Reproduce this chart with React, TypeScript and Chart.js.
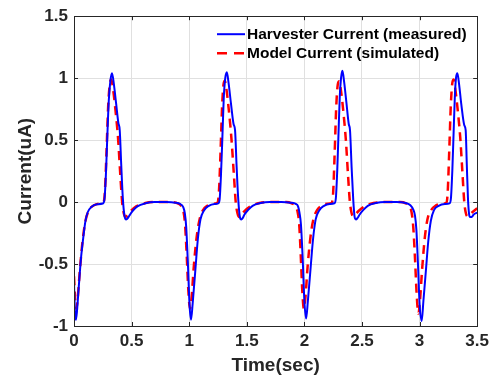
import { useEffect, useRef } from "react";
import { Chart, registerables } from "chart.js";

Chart.register(...registerables);

const measuredTime = [
  0, 0.008, 0.016, 0.026, 0.04, 0.06, 0.08, 0.1, 0.12, 0.15, 0.2, 0.25,
  0.264, 0.276, 0.288, 0.302, 0.316, 0.33, 0.345, 0.365, 0.385, 0.397, 0.41, 0.424, 0.438, 0.45, 0.462, 0.48, 0.51, 0.55, 0.62, 0.7, 0.8, 0.88, 0.92, 0.948, 0.962, 0.974, 0.988, 1.003, 1.016, 1.03, 1.055, 1.075, 1.098, 1.13, 1.17, 1.22, 1.252,
  1.264, 1.276, 1.288, 1.3, 1.313, 1.327, 1.342, 1.362, 1.385, 1.398, 1.412, 1.426, 1.44, 1.452, 1.464, 1.48, 1.51, 1.55, 1.62, 1.7, 1.8, 1.88, 1.925, 1.945, 1.958, 1.97, 1.985, 2.0, 2.015, 2.03, 2.055, 2.075, 2.098, 2.13, 2.17, 2.22, 2.26,
  2.273, 2.285, 2.296, 2.307, 2.318, 2.33, 2.345, 2.365, 2.385, 2.396, 2.41, 2.424, 2.436, 2.447, 2.46, 2.48, 2.51, 2.55, 2.62, 2.7, 2.8, 2.88, 2.92, 2.945, 2.96, 2.972, 2.986, 3.0, 3.018, 3.033, 3.055, 3.075, 3.098, 3.125, 3.165, 3.22, 3.26,
  3.272, 3.284, 3.295, 3.306, 3.316, 3.328, 3.343, 3.362, 3.388, 3.4, 3.41, 3.42, 3.43, 3.438, 3.452, 3.47, 3.5,
];
const measuredCurrent = [
  -0.65, -0.88, -0.95, -0.88, -0.7, -0.46, -0.29, -0.15, -0.08, -0.04, -0.018, -0.012,
  0.02, 0.2, 0.5, 0.82, 0.98, 1.04, 0.96, 0.8, 0.64, 0.58, 0.3, 0.03, -0.11, -0.14, -0.135, -0.11, -0.07, -0.035, -0.01, 0, 0, -0.005, -0.015, -0.04, -0.09, -0.2, -0.48, -0.83, -0.95, -0.82, -0.53, -0.3, -0.14, -0.065, -0.03, -0.015, -0.01,
  0.02, 0.22, 0.52, 0.84, 1.0, 1.047, 0.96, 0.8, 0.63, 0.58, 0.28, 0.02, -0.12, -0.14, -0.13, -0.1, -0.065, -0.03, -0.008, 0, 0, -0.005, -0.015, -0.035, -0.09, -0.18, -0.45, -0.8, -0.94, -0.8, -0.52, -0.3, -0.14, -0.065, -0.03, -0.015, -0.01,
  0.03, 0.25, 0.55, 0.85, 1.0, 1.06, 0.97, 0.8, 0.63, 0.58, 0.28, 0.02, -0.12, -0.14, -0.13, -0.1, -0.065, -0.03, -0.008, 0, 0, -0.008, -0.025, -0.06, -0.11, -0.22, -0.5, -0.82, -0.96, -0.8, -0.55, -0.32, -0.15, -0.065, -0.03, -0.015, -0.01,
  0.03, 0.25, 0.55, 0.85, 1.0, 1.04, 0.95, 0.79, 0.62, 0.58, 0.3, 0.03, -0.1, -0.12, -0.12, -0.1, -0.085,
];

const modelTime = [
  0, 0.01, 0.02, 0.032, 0.05, 0.075, 0.1, 0.13, 0.17, 0.22, 0.255,
  0.268, 0.282, 0.297, 0.312, 0.324, 0.338, 0.358, 0.382, 0.402, 0.418, 0.432, 0.447, 0.465, 0.49, 0.54, 0.62, 0.7, 0.85, 0.9, 0.93, 0.95, 0.964, 0.978, 0.993, 1.007, 1.02, 1.04, 1.065, 1.09, 1.12, 1.16, 1.21, 1.245,
  1.258, 1.272, 1.286, 1.298, 1.309, 1.322, 1.342, 1.366, 1.388, 1.404, 1.419, 1.434, 1.452, 1.478, 1.53, 1.61, 1.7, 1.84, 1.89, 1.92, 1.94, 1.955, 1.968, 1.982, 1.995, 2.008, 2.028, 2.053, 2.078, 2.11, 2.15, 2.2, 2.238,
  2.25, 2.263, 2.277, 2.29, 2.303, 2.316, 2.336, 2.36, 2.38, 2.395, 2.41, 2.425, 2.443, 2.47, 2.52, 2.6, 2.7, 2.83, 2.88, 2.91, 2.93, 2.945, 2.96, 2.975, 2.99, 3.003, 3.023, 3.045, 3.068, 3.1, 3.14, 3.195, 3.232,
  3.244, 3.257, 3.271, 3.284, 3.296, 3.309, 3.329, 3.353, 3.373, 3.388, 3.402, 3.416, 3.434, 3.46, 3.5,
];
const modelCurrent = [
  -0.6, -0.78, -0.86, -0.78, -0.56, -0.31, -0.15, -0.065, -0.028, -0.013, -0.004,
  0.08, 0.4, 0.78, 0.96, 0.99, 0.92, 0.76, 0.52, 0.22, 0.0, -0.09, -0.12, -0.105, -0.075, -0.035, -0.008, 0, 0, -0.01, -0.03, -0.075, -0.18, -0.42, -0.72, -0.86, -0.78, -0.52, -0.28, -0.14, -0.065, -0.028, -0.013, -0.005,
  0.08, 0.4, 0.78, 0.95, 0.98, 0.92, 0.76, 0.52, 0.22, 0.0, -0.09, -0.12, -0.105, -0.075, -0.035, -0.008, 0, 0, -0.01, -0.03, -0.075, -0.18, -0.42, -0.72, -0.86, -0.78, -0.52, -0.28, -0.14, -0.065, -0.028, -0.013, -0.005,
  0.08, 0.4, 0.78, 0.95, 0.975, 0.91, 0.75, 0.5, 0.2, 0.0, -0.09, -0.115, -0.1, -0.072, -0.035, -0.008, 0, 0, -0.01, -0.035, -0.08, -0.2, -0.45, -0.75, -0.9, -0.8, -0.53, -0.29, -0.14, -0.065, -0.028, -0.013, -0.005,
  0.08, 0.4, 0.78, 0.96, 0.99, 0.92, 0.76, 0.52, 0.22, 0.0, -0.09, -0.115, -0.1, -0.08, -0.05,
];

const xTicks = [0, 0.5, 1, 1.5, 2, 2.5, 3, 3.5];
const yTicks = [-1, -0.5, 0, 0.5, 1, 1.5];
const seriesLabels = ["Harvester Current (measured)", "Model Current (simulated)"];
const xTitle = "Time(sec)";
const yTitle = "Current(uA)";

const FONT = "'Liberation Sans', Arial, Helvetica, sans-serif";
const AXIS_COLOR = "#262626";
const GRID_COLOR = "#e0e0e0";

const framePlugin = {
  id: "matlabFrame",
  afterDraw(chart: any) {
    const { ctx, chartArea: a, scales } = chart;
    ctx.save();
    ctx.strokeStyle = AXIS_COLOR;
    ctx.lineWidth = 1;
    ctx.setLineDash([]);
    ctx.strokeRect(Math.round(a.left) + 0.5, Math.round(a.top) + 0.5, Math.round(a.right - a.left), Math.round(a.bottom - a.top));
    const tl = 4;
    ctx.beginPath();
    for (const t of xTicks) {
      const px = Math.round(scales.x.getPixelForValue(t)) + 0.5;
      ctx.moveTo(px, a.bottom);
      ctx.lineTo(px, a.bottom - tl);
      ctx.moveTo(px, a.top);
      ctx.lineTo(px, a.top + tl);
    }
    for (const t of yTicks) {
      const py = Math.round(scales.y.getPixelForValue(t)) + 0.5;
      ctx.moveTo(a.left, py);
      ctx.lineTo(a.left + tl, py);
      ctx.moveTo(a.right, py);
      ctx.lineTo(a.right - tl, py);
    }
    ctx.stroke();

    // legend (inside the axes, top right)
    const ds = chart.data.datasets;
    const x0 = a.left + 143;
    const x1 = x0 + 28;
    const rows = [a.top + 18, a.top + 37];
    ctx.font = `bold 15.5px ${FONT}`;
    ctx.textBaseline = "middle";
    ctx.textAlign = "left";
    ds.forEach((d: any, i: number) => {
      const y = rows[i];
      ctx.beginPath();
      ctx.strokeStyle = d.borderColor;
      ctx.lineWidth = d.borderWidth;
      ctx.setLineDash(d.borderDash && d.borderDash.length ? [10, 7] : []);
      ctx.moveTo(x0, y);
      ctx.lineTo(x1, y);
      ctx.stroke();
      ctx.setLineDash([]);
      ctx.fillStyle = "#000";
      ctx.fillText(d.label, x1 + 2, y + 1);
    });
    ctx.restore();
  },
};

export default function App() {
  const ref = useRef<HTMLCanvasElement | null>(null);
  useEffect(() => {
    if (!ref.current) return;
    const chart = new Chart(ref.current, {
      type: "line",
      data: {
        datasets: [
          {
            label: seriesLabels[0],
            data: measuredTime.map((t, i) => ({ x: t, y: measuredCurrent[i] })),
            borderColor: "#0000ff",
            borderWidth: 2,
            pointRadius: 0,
            cubicInterpolationMode: "monotone",
            fill: false,
          },
          {
            label: seriesLabels[1],
            data: modelTime.map((t, i) => ({ x: t, y: modelCurrent[i] })),
            borderColor: "#ff0000",
            borderWidth: 2.5,
            borderDash: [9, 6],
            pointRadius: 0,
            cubicInterpolationMode: "monotone",
            fill: false,
          },
        ],
      },
      options: {
        animation: false,
        responsive: false,
        events: [],
        layout: { padding: { top: 15, right: 13, left: 0, bottom: 0 } },
        plugins: { legend: { display: false }, tooltip: { enabled: false } },
        scales: {
          x: {
            type: "linear",
            min: 0,
            max: 3.5,
            afterFit: (s: any) => { s.height = 55; },
            afterBuildTicks: (s: any) => { s.ticks = xTicks.map((v) => ({ value: v })); },
            ticks: {
              color: AXIS_COLOR,
              font: { family: FONT, size: 17, weight: "bold" },
              padding: 5,
              maxRotation: 0,
              autoSkip: false,
              callback: (v: any) => String(v),
            },
            grid: { color: GRID_COLOR, drawTicks: false },
            border: { display: false },
            title: {
              display: true,
              text: xTitle,
              color: AXIS_COLOR,
              font: { family: FONT, size: 19, weight: "bold" },
              padding: { top: 0, bottom: 4 },
            },
          },
          y: {
            type: "linear",
            min: -1,
            max: 1.5,
            afterFit: (s: any) => { s.width = 74; },
            afterBuildTicks: (s: any) => { s.ticks = yTicks.map((v) => ({ value: v })); },
            ticks: {
              color: AXIS_COLOR,
              font: { family: FONT, size: 17, weight: "bold" },
              padding: 6,
              autoSkip: false,
              callback: (v: any) => String(v),
            },
            grid: { color: GRID_COLOR, drawTicks: false },
            border: { display: false },
            title: {
              display: true,
              text: yTitle,
              color: AXIS_COLOR,
              font: { family: FONT, size: 19, weight: "bold" },
              padding: { top: 14, bottom: 0 },
            },
          },
        },
      },
      plugins: [framePlugin],
    });
    return () => chart.destroy();
  }, []);
  return (
    <div style={{ position: "absolute", left: 0, top: 0, width: 494, height: 381, background: "#fff" }}>
      <canvas ref={ref} width={494} height={381} style={{ display: "block" }} />
    </div>
  );
}
